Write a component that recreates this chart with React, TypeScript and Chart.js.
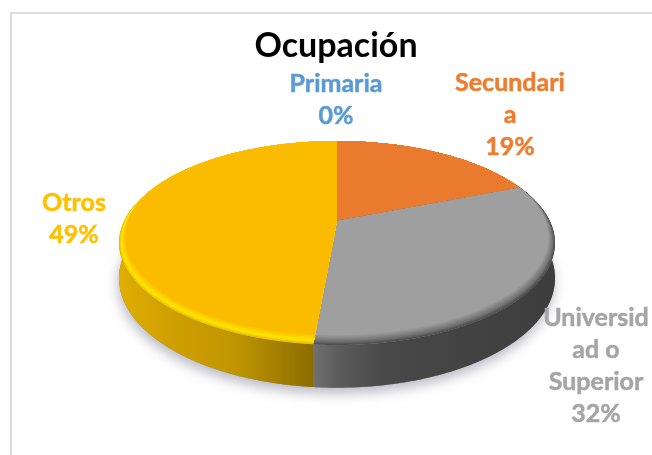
import React, { useEffect, useRef } from "react";
import { Chart, registerables } from "chart.js";

Chart.register(...registerables);

const titleText = "Ocupación";
const categories = ["Primaria", "Secundaria", "Universidad o Superior", "Otros"];
const shares = [0, 19, 32.4, 48.6];
const wrappedNames = [["Primaria"], ["Secundari", "a"], ["Universid", "ad o", "Superior"], ["Otros"]];
const faceColors = ["#5b9bd5", "#e97a2e", "#9f9f9f", "#fbbc00"];
const textColors = ["#5b9bd5", "#ed7d31", "#a5a5a5", "#ffc000"];
const FONT = "Lato, Carlito, sans-serif";

// Perspective projection of the pie's disc onto the canvas
const CX = 337, CY = 221, R = 212.9, H = 97.25, K = 0.2157, DEPTH = 33.5;
const project = (a: number, s = 1, shift = 0, drop = 0) => {
  const u = s * Math.sin(a);
  const v = s * Math.cos(a) + shift;
  const w = 1 + K * v;
  return { x: CX + (R * u) / w, y: CY - (H * v) / w + drop / w };
};

const rimPoints = (a0: number, a1: number, s = 1, shift = 0, drop = 0) => {
  const n = Math.max(2, Math.ceil(Math.abs(a1 - a0) / 0.01));
  const pts = [];
  for (let i = 0; i <= n; i++) pts.push(project(a0 + ((a1 - a0) * i) / n, s, shift, drop));
  return pts;
};

const trace = (ctx: CanvasRenderingContext2D, pts: { x: number; y: number }[]) => {
  pts.forEach((p, i) => (i ? ctx.lineTo(p.x, p.y) : ctx.moveTo(p.x, p.y)));
};

const hex = (c: string) => [1, 3, 5].map((i) => parseInt(c.slice(i, i + 2), 16));
const mix = (a: string, b: string, t: number) => {
  const A = hex(a), B = hex(b);
  return `rgb(${A.map((v, i) => Math.round(v + (B[i] - v) * t)).join(",")})`;
};

const bevels: Record<number, [string, string, string]> = {
  1: ["#e97a2e", "#e97a2e", "#e97a2e"],
  2: ["#4c4c4c", "#727272", "#9f9f9f"],
  3: ["#e8b800", "#ffe600", "#fbbc00"],
};

const walls: Record<number, [number, string][]> = {
  2: [[0, "#707070"], [0.1, "#5c5c5c"], [0.3, "#484848"], [1, "#3d3d3d"]],
  3: [[0, "#dfae00"], [0.25, "#d0a000"], [0.6, "#c09500"], [0.88, "#9a7800"], [1, "#8c6d00"]],
};

const pie3d = {
  id: "pie3d",
  beforeDraw(chart: any) {
    const { ctx, width, height } = chart;
    ctx.save();
    ctx.fillStyle = "#ffffff";
    ctx.fillRect(0, 0, width, height);
    ctx.fillStyle = "#dcdcdc";
    ctx.fillRect(10, 12, width - 10, 2);
    ctx.fillRect(10, 12, 2, height - 12);
    ctx.restore();
  },
  beforeDatasetsDraw(chart: any) {
    const { ctx } = chart;
    const arcs = chart.getDatasetMeta(0).data;
    const angles = arcs.map((arc: any) => [arc.startAngle + Math.PI / 2, arc.endAngle + Math.PI / 2]);

    // soft shadow under the disc
    ctx.save();
    ctx.shadowColor = "rgba(120,120,140,0.5)";
    ctx.shadowBlur = 12;
    ctx.shadowOffsetX = -1;
    ctx.shadowOffsetY = 6;
    ctx.fillStyle = "#888888";
    ctx.beginPath();
    trace(ctx, rimPoints(0, Math.PI * 2, 1, 0, DEPTH));
    ctx.closePath();
    ctx.fill();
    ctx.restore();

    // side wall
    angles.forEach(([a0, a1]: number[], i: number) => {
      if (a1 - a0 < 1e-4) return;
      const stops = walls[i];
      const grad = ctx.createLinearGradient(i === 3 ? 119 : 314, 0, i === 3 ? 314 : 556, 0);
      (stops || [[0, faceColors[i]], [1, faceColors[i]]]).forEach(([p, c]: any) => grad.addColorStop(p, c));
      ctx.fillStyle = grad;
      ctx.beginPath();
      trace(ctx, rimPoints(a0, a1));
      rimPoints(a1, a0, 1, 0, DEPTH).forEach((p) => ctx.lineTo(p.x, p.y));
      ctx.closePath();
      ctx.fill();
    });

    // top face with bevelled rim
    angles.forEach(([a0, a1]: number[], i: number) => {
      if (a1 - a0 < 1e-4) return;
      const [rim, mid, face] = bevels[i];
      ctx.save();
      ctx.beginPath();
      ctx.moveTo(CX, CY);
      rimPoints(a0, a1).forEach((p) => ctx.lineTo(p.x, p.y));
      ctx.closePath();
      ctx.clip();
      const steps = 24;
      for (let s = 0; s <= steps; s++) {
        const t = s / steps;
        ctx.fillStyle = t < 0.35 ? mix(rim, mid, t / 0.35) : mix(mid, face, (t - 0.35) / 0.65);
        const d = 0.04 * t;
        ctx.beginPath();
        trace(ctx, rimPoints(0, Math.PI * 2, 1 - 0.5 * d, 1.15 * d));
        ctx.closePath();
        ctx.fill();
      }
      ctx.restore();
    });
    return false;
  },
  afterDraw(chart: any) {
    const { ctx } = chart;
    const values = chart.data.datasets[0].data as number[];
    const total = values.reduce((a, b) => a + b, 0);
    const anchors = [
      { x: 336, y: 84 },
      { x: 510, y: 83 },
      { x: 596, y: 318 },
      { x: 74, y: 203 },
    ];
    ctx.save();
    ctx.font = `700 25px ${FONT}`;
    ctx.textAlign = "center";
    ctx.textBaseline = "middle";
    ctx.lineWidth = 0.5;
    ctx.lineJoin = "round";
    values.forEach((v, i) => {
      const lines = [...wrappedNames[i], `${Math.round((v / total) * 100)}%`];
      ctx.fillStyle = textColors[i];
      ctx.strokeStyle = textColors[i];
      lines.forEach((line, j) => {
        ctx.fillText(line, anchors[i].x, anchors[i].y + j * 32);
        ctx.strokeText(line, anchors[i].x, anchors[i].y + j * 32);
      });
    });
    ctx.restore();
  },
};

export default function App() {
  const ref = useRef<HTMLCanvasElement>(null);
  useEffect(() => {
    if (!ref.current) return;
    const chart = new Chart(ref.current, {
      type: "pie",
      data: {
        labels: categories,
        datasets: [{ data: shares, backgroundColor: faceColors, borderWidth: 0 }],
      },
      options: {
        responsive: false,
        animation: false,
        layout: { padding: { left: 20, top: 26 } },
        plugins: {
          legend: { display: false },
          tooltip: { enabled: false },
          title: {
            display: true,
            text: titleText,
            color: "#000000",
            font: { family: FONT, size: 34, weight: "bold" },
            padding: 0,
          },
        },
      },
      plugins: [pie3d],
    } as any);
    return () => chart.destroy();
  }, []);
  return (
    <canvas
      ref={ref}
      width={652}
      height={455}
      style={{ position: "absolute", left: 0, top: 0, display: "block" }}
    />
  );
}
